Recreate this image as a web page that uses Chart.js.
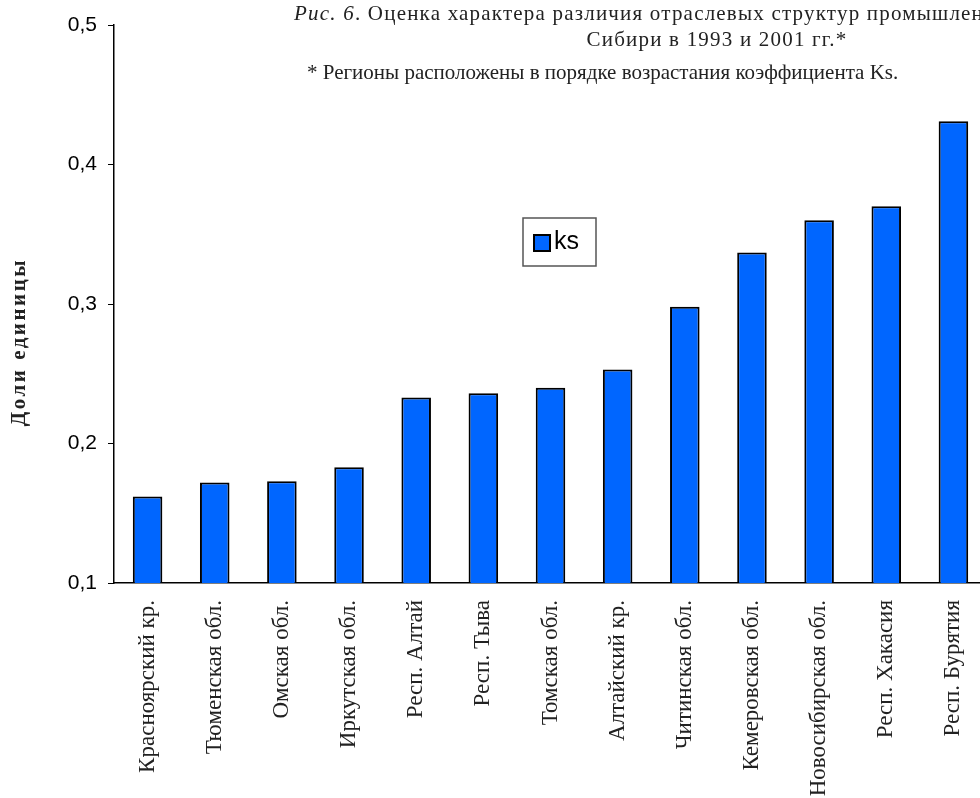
<!DOCTYPE html>
<html lang="ru">
<head>
<meta charset="utf-8">
<title>Рис. 6</title>
<script src="https://cdn.jsdelivr.net/npm/chart.js@4.4.1/dist/chart.umd.min.js"></script>
<style>
  html, body { margin: 0; padding: 0; background: #fff; overflow: hidden; }
  #wrap { width: 1000px; height: 798px; position: relative; }
</style>
</head>
<body>
<div id="wrap"><canvas id="graficoKs"></canvas></div>
<script>
const regioes = [
  'Красноярский кр.', 'Тюменская обл.', 'Омская обл.', 'Иркутская обл.',
  'Респ. Алтай', 'Респ. Тыва', 'Томская обл.', 'Алтайский кр.',
  'Читинская обл.', 'Кемеровская обл.', 'Новосибирская обл.', 'Респ. Хакасия',
  'Респ. Бурятия'
];
const valoresKs = [0.162, 0.172, 0.173, 0.183, 0.233, 0.236, 0.240, 0.253, 0.298, 0.337, 0.360, 0.370, 0.431];
const ticksY = [0.1, 0.2, 0.3, 0.4, 0.5];
const rotuloSerie = 'ks';
const prefixoTitulo = 'Рис. 6';
const tituloLinhas = [
  '. Оценка характера различия отраслевых структур промышленности регионов',
  'Сибири в 1993 и 2001 гг.*'
];
const notaRodape = '* Регионы расположены в порядке возрастания коэффициента Ks.';
const tituloEixoY = 'Доли единицы';

// заголовок, сноска, подпись оси Y и легенда в рамке
const textosPlugin = {
  id: 'textos',
  afterDraw(chart) {
    const c = chart.ctx;
    c.save();
    c.fillStyle = '#222';
    c.textBaseline = 'alphabetic';
    c.letterSpacing = '1.2px';
    c.textAlign = 'left';

    // первая строка центрирована вместе со второй (обрезается справа)
    const fItal = 'italic 21px "Liberation Serif", serif';
    const fReg = '21px "Liberation Serif", serif';
    c.font = fItal;
    const w1 = c.measureText(prefixoTitulo).width;
    c.font = fReg;
    const w2 = c.measureText(tituloLinhas[0]).width;
    const cx = 717;
    let x0 = cx - (w1 + w2) / 2;
    c.font = fItal;
    c.fillText(prefixoTitulo, x0, 20);
    c.font = fReg;
    c.fillText(tituloLinhas[0], x0 + w1, 20);
    c.textAlign = 'center';
    c.fillText(tituloLinhas[1], cx, 46);

    c.letterSpacing = '0px';
    c.textAlign = 'left';
    c.font = '21px "Liberation Serif", serif';
    c.fillText(notaRodape, 307, 79);

    // подпись оси Y
    c.save();
    c.translate(25, 342);
    c.rotate(-Math.PI / 2);
    c.textAlign = 'center';
    c.letterSpacing = '2.5px';
    c.font = 'bold 21px "Liberation Serif", serif';
    c.fillText(tituloEixoY, 0, 0);
    c.restore();

    // легенда
    const ds = chart.data.datasets[0];
    c.fillStyle = '#fff';
    c.fillRect(523, 218, 73, 48);
    c.strokeStyle = '#555';
    c.lineWidth = 1.5;
    c.strokeRect(523, 218, 73, 48);
    c.fillStyle = ds.backgroundColor;
    c.fillRect(534, 235, 16, 16);
    c.strokeStyle = '#000';
    c.lineWidth = 2;
    c.strokeRect(534, 235, 16, 16);
    c.fillStyle = '#000';
    c.font = '25px "Liberation Sans", Arial, sans-serif';
    c.fillText(ds.label, 554, 249);
    c.restore();
  }
};

document.addEventListener('DOMContentLoaded', function () {
  const ctx = document.getElementById('graficoKs').getContext('2d');
  new Chart(ctx, {
    type: 'bar',
    data: {
      labels: regioes,
      datasets: [{
        label: rotuloSerie,
        data: valoresKs,
        backgroundColor: '#0066ff',
        borderColor: '#000',
        borderWidth: 2,
        categoryPercentage: 1,
        barPercentage: 0.44
      }]
    },
    options: {
      responsive: true,
      maintainAspectRatio: false,
      animation: false,
      layout: { padding: { top: 25, right: 13, left: 0, bottom: 0 } },
      plugins: {
        legend: { display: false },
        tooltip: { enabled: false }
      },
      scales: {
        x: {
          grid: { display: false },
          border: { display: true, color: '#000', width: 1.5 },
          ticks: {
            autoSkip: false,
            minRotation: 90,
            maxRotation: 90,
            padding: 9,
            color: '#222',
            font: { family: '"Liberation Serif", serif', size: 23 }
          },
          afterFit(scale) { scale.height = 215; }
        },
        y: {
          min: 0.1,
          max: 0.5,
          afterBuildTicks(scale) { scale.ticks = ticksY.map(v => ({ value: v })); },
          grid: { drawOnChartArea: false, drawTicks: true, tickLength: 6, color: '#000' },
          border: { display: true, color: '#000', width: 1.5 },
          ticks: {
            padding: 11,
            color: '#000',
            font: { family: '"Liberation Sans", Arial, sans-serif', size: 21 },
            callback: v => v.toFixed(1).replace('.', ',')
          },
          afterFit(scale) { scale.width = 114; }
        }
      }
    },
    plugins: [textosPlugin]
  });
});
</script>
</body>
</html>
